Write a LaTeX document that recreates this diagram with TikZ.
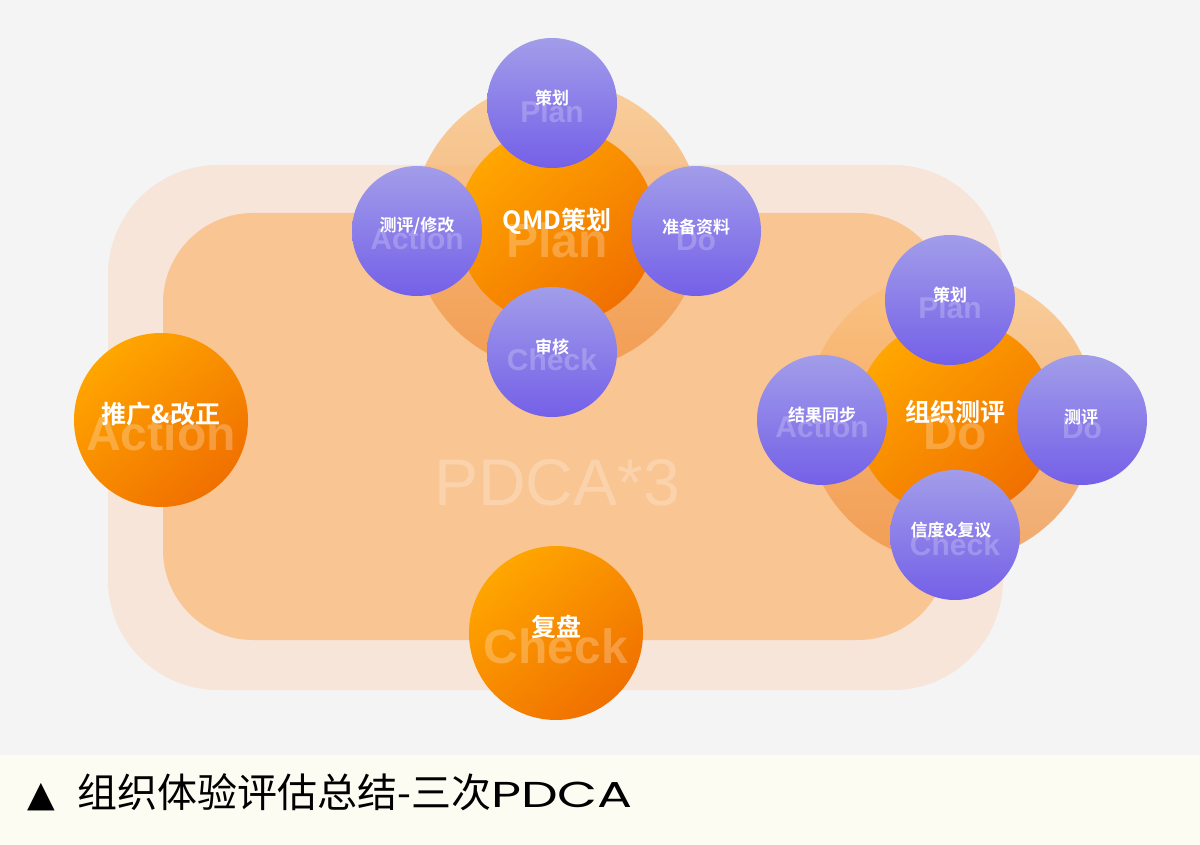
\documentclass[tikz,border=0pt]{standalone}
\usepackage{fontspec}
\usepackage{graphicx}
\setmainfont{Liberation Sans}
\newfontfamily\cjk{Noto Sans CJK SC}[BoldFont={Noto Sans CJK SC Bold}]
\newfontfamily\capfont{Poppins}
\newfontfamily\symfont{DejaVu Sans}
\definecolor{bgc}{HTML}{F4F4F4}
\definecolor{capbg}{HTML}{FDFCF2}
\definecolor{outerc}{HTML}{F7E5DA}
\definecolor{innerc}{HTML}{F9C592}
\definecolor{oTop}{HTML}{FFA600}
\definecolor{oBot}{HTML}{F07000}
\definecolor{pTop}{HTML}{A29DE9}
\definecolor{pBot}{HTML}{7460E8}
\definecolor{rTop}{HTML}{FBC27E}
\definecolor{rBot}{HTML}{F09040}
\tikzset{
  ball/.style={circle, inner sep=0pt, minimum size=174pt, top color=oTop, bottom color=oBot, shading angle=40},
  core/.style={circle, inner sep=0pt, minimum size=198pt, top color=oTop, bottom color=oBot, shading angle=40},
  pball/.style={circle, inner sep=0pt, minimum size=130pt, top color=pTop, bottom color=pBot},
  ring/.style={circle, inner sep=0pt, minimum size=290pt, top color=rTop, bottom color=rBot, fill opacity=0.75},
  biglab/.style={inner sep=0pt, text=white, font=\cjk\bfseries\fontsize{25}{25}\selectfont},
  smalllab/.style={inner sep=0pt, text=white, font=\cjk\bfseries\fontsize{17}{17}\selectfont},
  wmbig/.style={inner sep=0pt, text=white, text opacity=0.25, font=\bfseries\fontsize{48}{48}\selectfont},
  wmsmall/.style={inner sep=0pt, text=white, text opacity=0.22, font=\bfseries\fontsize{30}{30}\selectfont},
}
\begin{document}
\begin{tikzpicture}[x=1pt,y=-1pt]
\useasboundingbox (0,0) rectangle (1200,845);
\fill[bgc] (0,0) rectangle (1200,755);
\fill[capbg] (0,755) rectangle (1200,845);
% background rounded rectangles
\fill[outerc, rounded corners=110pt] (108,165) rectangle (1003,690);
\fill[innerc, rounded corners=90pt] (163,213) rectangle (948,640);
\node[inner sep=0pt, text=white, text opacity=0.25, font=\fontsize{66}{66}\selectfont] (pdca) at (557,483) {PDCA*3};
% Action ball
\node[ball] (act) at (161,420) {};
\node[wmbig] (actw) at (161,433) {Action};
\node[biglab] (actl) at (161,414) {推广\&改正};
% Check ball
\node[ball] (chk) at (556,633) {};
\node[wmbig] (chkw) at (556,646) {Check};
\node[biglab] (chkl) at (556,627) {复盘};
% top cluster (Plan)
\node[ring] (ringA) at (557,226) {};
\node[core] (coreA) at (557,226) {};
\node[wmbig] (coreAw) at (557,240) {Plan};
\node[biglab] (coreAl) at (557,221) {QMD策划};
\node[pball] (a1) at (552,103) {};
\node[wmsmall] (a1w) at (552,112) {Plan};
\node[smalllab] (a1l) at (552,98) {策划};
\node[pball] (a2) at (417,231) {};
\node[wmsmall] (a2w) at (417,239) {Action};
\node[smalllab] (a2l) at (417,226) {测评/修改};
\node[pball] (a3) at (696,231) {};
\node[wmsmall] (a3w) at (696,240) {Do};
\node[smalllab] (a3l) at (696,227) {准备资料};
\node[pball] (a4) at (552,352) {};
\node[wmsmall] (a4w) at (552,360) {Check};
\node[smalllab] (a4l) at (552,347) {审核};
% right cluster (Do)
\node[ring] (ringB) at (951,417) {};
\node[core] (coreB) at (955,418) {};
\node[wmbig] (coreBw) at (955,433) {Do};
\node[biglab] (coreBl) at (955,412) {组织测评};
\node[pball] (b1) at (950,300) {};
\node[wmsmall] (b1w) at (950,308) {Plan};
\node[smalllab] (b1l) at (950,295) {策划};
\node[pball] (b2) at (822,420) {};
\node[wmsmall] (b2w) at (822,427) {Action};
\node[smalllab] (b2l) at (822,415) {结果同步};
\node[pball] (b3) at (1082,420) {};
\node[wmsmall] (b3w) at (1082,428) {Do};
\node[smalllab] (b3l) at (1081,417) {测评};
\node[pball] (b4) at (955,535) {};
\node[wmsmall] (b4w) at (955,545) {Check};
\node[smalllab] (b4l) at (951,530) {信度\&复议};
% caption
\node[anchor=west, inner sep=0pt, font=\symfont\fontsize{36}{36}\selectfont] (tri) at (27,797) {▲};
\node[anchor=base west, inner sep=0pt, font=\cjk\fontsize{40}{40}\selectfont] (cap) at (77,807) {组织体验评估总结-三次{\capfont\fontsize{36}{36}\selectfont\scalebox{1.44}[1]{PDCA}}};
\end{tikzpicture}
\end{document}
